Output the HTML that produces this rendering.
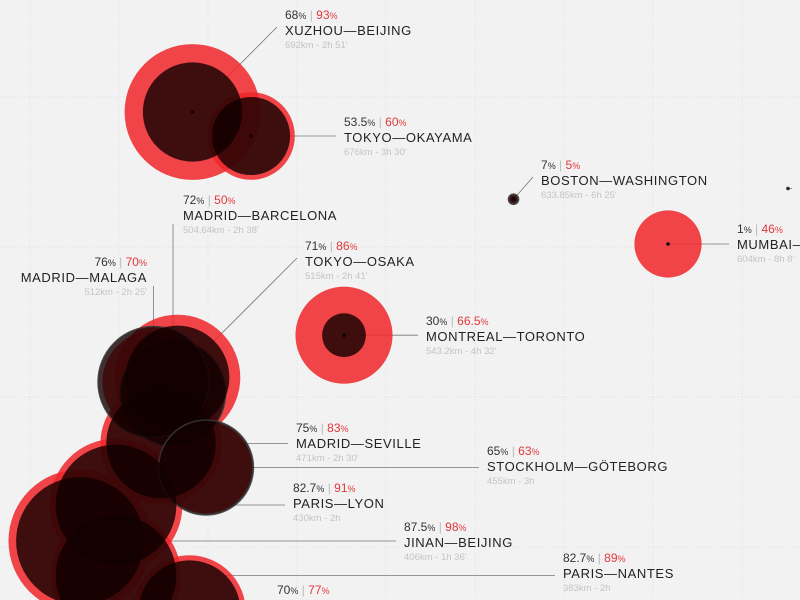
<!DOCTYPE html>
<html><head><meta charset="utf-8"><style>
html,body{margin:0;padding:0;background:#f2f2f2;overflow:hidden;width:800px;height:600px;}
svg{display:block;font-family:"Liberation Sans",sans-serif;}
.pct{font-size:12px;fill:#333;}
.pct tspan.s{font-size:9px;}
.red{fill:#e0383c;}
.bar{fill:#bbb;}
.nm{font-size:13px;fill:#222;letter-spacing:0.6px;}
.sub{font-size:9.5px;fill:#c4c4c4;}
</style></head><body>
<svg id="chart" width="800" height="600" viewBox="0 0 800 600" xmlns="http://www.w3.org/2000/svg">
<rect x="0" y="0" width="800" height="600" fill="#f2f2f2"/>
<g id="grid"></g>
<g id="leaders"></g>
<g id="redBubbles"></g>
<g id="dots"></g>
<g id="darkBubbles"></g>
<g id="labels"></g>
</svg>
<script>
// Data
const routes = ["XUZHOU—BEIJING","TOKYO—OKAYAMA","BOSTON—WASHINGTON","MUMBAI—AHMEDABAD","","MADRID—BARCELONA","MADRID—MALAGA","TOKYO—OSAKA","MONTREAL—TORONTO","MADRID—SEVILLE","STOCKHOLM—GÖTEBORG","PARIS—LYON","JINAN—BEIJING","PARIS—NANTES",""];
const distanceKm = [692,676,633.85,604,641,504.64,512,515,543.2,471,455,430,406,383,359];
const travelMin = [171,210,385,488,568,158,145,161,272,150,180,120,96,120,169];
const shareA = [68,53.5,7,1,1,72,76,71,30,75,65,82.7,87.5,82.7,70];
const shareB = [93,60,5,46,0,50,70,86,66.5,83,63,91,98,89,77];
const pctAText = ["68","53.5","7","1","","72","76","71","30","75","65","82.7","87.5","82.7","70"];
const pctBText = ["93","60","5","46","","50","70","86","66.5","83","63","91","98","89","77"];
const subText = ["692km - 2h 51'","676km - 3h 30'","633.85km - 6h 25'","604km - 8h 8'","","504.64km - 2h 38'","512km - 2h 25'","515km - 2h 41'","543.2km - 4h 32'","471km - 2h 30'","455km - 3h","430km - 2h","406km - 1h 36'","383km - 2h",""];
// Layout (label anchor positions, not data)
const labelX = [285,344,541,737,800,183,147,305,426,296,487,293,404,563,277];
const labelY = [27,134,177,241,188,212,274,258,333,440,463,500,539,570,602];
const labelAlign = ["start","start","start","start","start","start","end","start","start","start","start","start","start","start","start"];
const leaderKind = ["diag","h","diag","h","h","v","v","diag","h","h","h","h","h","h","h"];

const xScale = m => 1.5*m - 64;
const yScale = d => 1150 - 1.5*d;
const rScale = p => 0.73*p;
const NS = "http://www.w3.org/2000/svg";
function mk(tag, attrs, parent){const e=document.createElementNS(NS,tag);for(const k in attrs)e.setAttribute(k,attrs[k]);parent.appendChild(e);return e;}

const grid = document.getElementById('grid');
for(let gx=30; gx<800; gx+=89){
  const l = mk('line',{x1:gx,y1:0,x2:gx,y2:600,stroke:'#e0e0e0','stroke-width':1,'stroke-dasharray':'1 2'},grid);
  
  
}
for(let gy=97; gy<600; gy+=150){
  const l = mk('line',{x1:0,y1:gy,x2:800,y2:gy,stroke:'#e0e0e0','stroke-width':1,'stroke-dasharray':'1 2'},grid);
  
  
}

const leaders = document.getElementById('leaders');
const reds = document.getElementById('redBubbles');
const darks = document.getElementById('darkBubbles');
const dots = document.getElementById('dots');
const labels = document.getElementById('labels');

routes.forEach((name,i)=>{
  const cx = xScale(travelMin[i]), cy = yScale(distanceKm[i]);
  const lx = labelX[i], ly = labelY[i];
  let x2, y2;
  if(leaderKind[i]==='h'){ x2 = lx-8; y2 = cy; }
  else if(leaderKind[i]==='v'){ x2 = cx; y2 = ly+12; }
  else { x2 = lx-8; y2 = ly; }
  const ln = mk('line',{x1:cx,y1:cy,x2:x2,y2:y2,stroke:'#777','stroke-width':0.8},leaders);
  
  
  const dot = mk('circle',{cx:cx,cy:cy,r:1.8,fill:'#111'},dots);
  
  

  const rb = rScale(shareB[i]);
  if(rb>0){
    const c = mk('circle',{cx:cx,cy:cy,r:rb,fill:'rgba(240,40,44,0.86)'},reds);
    
    
  }
  const ra = rScale(shareA[i]);
  const ca = mk('circle',{cx:cx,cy:cy,r:ra,fill:'rgba(18,0,0,0.8)',stroke:shareA[i]>shareB[i]?'rgba(55,55,55,0.85)':'none','stroke-width':1.5},darks);
  
  

  if(pctAText[i]==='') return;
  const g = mk('g',{},labels);
  
  
  const t1 = mk('text',{x:lx,y:ly-8,'text-anchor':labelAlign[i],class:'pct'},g);
  t1.innerHTML = pctAText[i]+'<tspan class="s">%</tspan><tspan class="bar"> | </tspan><tspan class="red">'+pctBText[i]+'<tspan class="s">%</tspan></tspan>';
  
  
  if(name){
    const t2 = mk('text',{x:lx,y:ly+8,'text-anchor':labelAlign[i],class:'nm'},g);
    t2.textContent = name;
    
    
  }
  if(subText[i]){
    const t3 = mk('text',{x:lx,y:ly+21,'text-anchor':labelAlign[i],class:'sub'},g);
    t3.textContent = subText[i];
    
    
  }
});
</script>
</body></html>
